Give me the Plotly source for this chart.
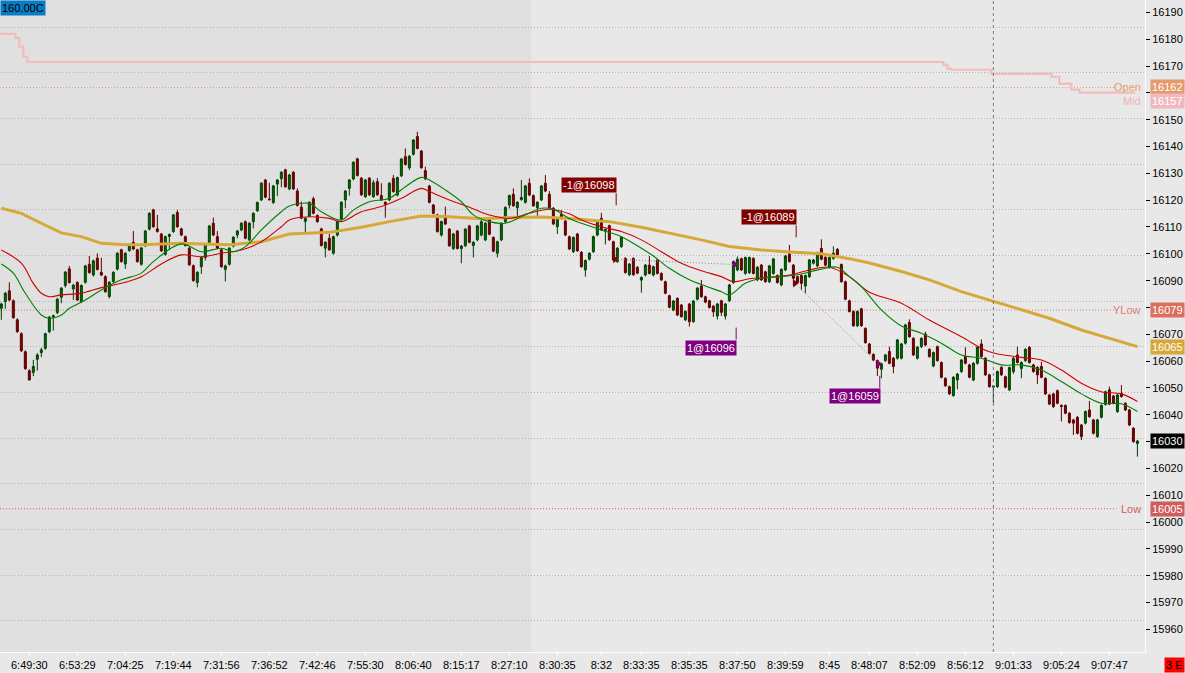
import plotly.graph_objects as go

# ---- candles (one per bar, bar index = x position) ----
opens = [
    16079.7, 16082.2, 16086.2, 16082.5, 16075.4, 16070.2, 16063.5, 16056.4, 16055.8, 16060.7,
    16063.2, 16064.8, 16071.0, 16076.5, 16078.1, 16083.8, 16088.2, 16094.4, 16086.9, 16089.3,
    16082.2, 16089.4, 16096.1, 16092.1, 16098.4, 16093.1, 16091.5, 16084.1, 16089.7, 16094.3,
    16101.5, 16096.2, 16101.2, 16104.3, 16101.5, 16096.1, 16103.0, 16109.2, 16116.4, 16109.3,
    16107.4, 16099.8, 16106.5, 16108.3, 16115.4, 16109.3, 16106.4, 16102.1, 16095.6, 16089.3,
    16095.2, 16098.6, 16104.3, 16111.4, 16106.4, 16101.5, 16094.2, 16096.1, 16102.9, 16107.0,
    16108.9, 16112.0, 16105.2, 16112.0, 16116.1, 16120.1, 16127.5, 16120.4, 16119.1, 16126.0,
    16128.0, 16131.3, 16124.2, 16130.4, 16123.4, 16117.4, 16112.1, 16114.1, 16120.5, 16114.3,
    16109.3, 16102.1, 16105.8, 16100.2, 16107.0, 16113.0, 16120.1, 16124.4, 16127.9, 16135.4,
    16128.2, 16121.3, 16128.2, 16121.3, 16126.9, 16121.7, 16119.2, 16120.1, 16128.1, 16121.9,
    16129.1, 16136.2, 16132.1, 16137.1, 16143.7, 16138.3, 16131.0, 16125.3, 16118.2, 16114.5,
    16107.0, 16113.5, 16109.2, 16102.0, 16108.5, 16102.0, 16103.0, 16110.4, 16103.1, 16105.2,
    16107.0, 16105.2, 16113.2, 16106.1, 16100.2, 16105.2, 16112.0, 16118.2, 16122.2, 16117.2,
    16120.2, 16119.2, 16126.3, 16121.7, 16117.2, 16120.1, 16126.3, 16122.2, 16117.0, 16110.1,
    16114.7, 16112.2, 16106.4, 16100.8, 16107.4, 16100.6, 16094.0, 16098.0, 16100.8, 16107.0,
    16113.2, 16108.7, 16110.5, 16104.5, 16097.1, 16102.7, 16098.3, 16092.2, 16098.3, 16095.0,
    16090.2, 16092.1, 16095.8, 16092.1, 16097.7, 16092.7, 16089.6, 16084.4, 16079.1, 16083.4,
    16080.9, 16075.4, 16081.3, 16074.7, 16083.1, 16088.0, 16084.0, 16082.5, 16080.5, 16076.8,
    16082.5, 16076.8, 16082.5, 16089.3, 16094.0, 16098.2, 16092.7, 16093.0, 16098.3, 16090.3,
    16095.8, 16093.3, 16089.6, 16092.7, 16091.9, 16088.4, 16094.0, 16099.9, 16095.8, 16091.5,
    16091.9, 16088.0, 16091.5, 16096.5, 16095.5, 16102.0, 16098.7, 16095.0, 16098.3, 16101.7,
    16096.0, 16089.6, 16082.5, 16078.5, 16073.2, 16079.5, 16072.2, 16066.4, 16062.5, 16060.2,
    16057.0, 16060.2, 16063.6, 16061.1, 16061.1, 16061.1, 16066.7, 16074.4, 16068.5, 16061.1,
    16065.4, 16070.1, 16064.4, 16058.2, 16065.4, 16059.5, 16053.6, 16050.5, 16047.2, 16053.0,
    16056.1, 16061.7, 16058.6, 16053.0, 16059.2, 16066.4, 16061.1, 16054.9, 16050.3, 16050.5,
    16057.7, 16054.2, 16049.3, 16056.1, 16062.3, 16057.3, 16060.2, 16065.2, 16058.6, 16057.7,
    16058.0, 16053.6, 16047.4, 16047.8, 16049.0, 16043.5, 16043.5, 16040.6, 16038.1, 16039.1,
    16036.2, 16036.9, 16041.8, 16038.1, 16031.9, 16039.1, 16043.9, 16049.3, 16047.0, 16041.2,
    16048.0, 16044.3, 16041.8, 16035.0, 16029.3,
]
highs = [
    16081.8, 16085.8, 16089.4, 16083.0, 16076.0, 16070.8, 16064.0, 16057.0, 16060.5, 16063.0,
    16065.0, 16070.6, 16076.8, 16077.4, 16083.5, 16087.6, 16093.6, 16095.5, 16088.8, 16089.8,
    16088.6, 16095.9, 16099.2, 16097.8, 16100.2, 16098.6, 16092.0, 16089.8, 16093.5, 16100.6,
    16101.9, 16100.6, 16103.7, 16108.5, 16101.9, 16102.6, 16108.9, 16115.5, 16116.8, 16114.5,
    16107.8, 16106.8, 16107.6, 16114.9, 16116.4, 16109.7, 16106.8, 16102.5, 16096.0, 16093.5,
    16099.0, 16103.7, 16110.8, 16113.5, 16108.5, 16101.9, 16096.0, 16102.5, 16106.6, 16108.9,
    16111.8, 16112.4, 16111.8, 16115.5, 16119.5, 16126.7, 16127.9, 16126.5, 16125.7, 16127.9,
    16130.8, 16131.7, 16129.8, 16130.8, 16124.4, 16119.5, 16113.6, 16119.6, 16121.3, 16114.7,
    16109.7, 16104.7, 16107.4, 16106.8, 16112.4, 16119.6, 16123.8, 16127.9, 16134.5, 16135.8,
    16128.6, 16127.9, 16128.6, 16127.5, 16128.2, 16126.3, 16119.6, 16126.7, 16129.4, 16128.8,
    16135.7, 16139.3, 16136.8, 16142.8, 16145.5, 16138.7, 16132.5, 16125.7, 16118.6, 16114.9,
    16112.4, 16117.6, 16109.6, 16107.8, 16108.9, 16103.3, 16109.6, 16110.8, 16104.7, 16110.8,
    16112.9, 16111.8, 16113.6, 16106.5, 16104.9, 16111.8, 16117.7, 16122.1, 16124.4, 16119.6,
    16127.5, 16125.7, 16128.1, 16122.1, 16119.6, 16125.7, 16129.4, 16123.4, 16117.4, 16113.6,
    16116.3, 16112.6, 16106.8, 16106.5, 16107.8, 16101.0, 16097.9, 16100.6, 16106.8, 16112.6,
    16115.3, 16109.5, 16110.9, 16104.9, 16102.5, 16106.6, 16098.7, 16096.6, 16098.7, 16095.4,
    16091.6, 16096.2, 16099.2, 16095.6, 16098.1, 16093.1, 16090.0, 16084.8, 16082.8, 16083.8,
    16081.3, 16078.9, 16081.7, 16082.8, 16087.6, 16090.3, 16084.4, 16082.9, 16080.9, 16081.7,
    16082.9, 16081.7, 16088.8, 16097.5, 16099.0, 16098.6, 16099.0, 16099.0, 16098.7, 16095.4,
    16096.2, 16093.7, 16095.9, 16098.5, 16092.3, 16094.6, 16099.6, 16103.3, 16096.2, 16091.9,
    16092.3, 16092.3, 16098.1, 16098.1, 16100.8, 16105.4, 16099.1, 16099.0, 16102.8, 16102.1,
    16096.4, 16090.0, 16082.9, 16078.9, 16078.9, 16079.9, 16072.6, 16066.8, 16062.9, 16060.6,
    16059.4, 16062.7, 16065.4, 16061.5, 16068.3, 16066.8, 16073.9, 16075.6, 16068.9, 16065.6,
    16068.9, 16071.0, 16064.8, 16063.6, 16065.8, 16059.9, 16054.0, 16050.9, 16054.4, 16055.6,
    16060.8, 16065.2, 16059.0, 16059.6, 16065.6, 16068.1, 16061.5, 16055.3, 16051.1, 16056.5,
    16058.1, 16054.6, 16058.0, 16061.5, 16065.4, 16059.9, 16064.8, 16065.6, 16059.0, 16058.1,
    16059.8, 16054.0, 16047.8, 16048.2, 16049.4, 16043.9, 16043.9, 16041.0, 16038.5, 16039.5,
    16036.6, 16041.6, 16045.2, 16038.5, 16038.5, 16043.9, 16049.0, 16050.5, 16047.4, 16047.8,
    16051.1, 16044.7, 16042.2, 16035.4, 16030.6,
]
lows = [
    16075.4, 16079.5, 16082.3, 16075.8, 16070.5, 16063.4, 16056.8, 16052.8, 16054.4, 16056.5,
    16061.5, 16064.2, 16070.4, 16071.4, 16077.5, 16081.6, 16087.4, 16088.9, 16082.8, 16082.4,
    16081.6, 16088.9, 16092.6, 16091.5, 16093.8, 16091.7, 16085.5, 16083.4, 16089.2, 16093.8,
    16096.7, 16094.4, 16100.8, 16101.4, 16096.7, 16095.6, 16102.5, 16108.7, 16109.7, 16107.9,
    16100.7, 16099.3, 16101.5, 16107.8, 16109.7, 16106.6, 16102.7, 16095.5, 16089.6, 16087.5,
    16092.5, 16097.5, 16103.8, 16106.6, 16101.7, 16094.8, 16089.7, 16095.6, 16102.4, 16105.8,
    16108.4, 16105.4, 16104.7, 16109.5, 16115.6, 16119.6, 16120.7, 16119.8, 16118.6, 16121.6,
    16124.8, 16124.6, 16123.7, 16123.8, 16117.6, 16112.9, 16107.7, 16113.6, 16114.7, 16111.6,
    16102.7, 16098.7, 16101.1, 16099.7, 16106.4, 16112.5, 16117.0, 16121.7, 16127.4, 16128.8,
    16121.6, 16120.8, 16121.6, 16120.8, 16121.6, 16119.7, 16113.5, 16119.6, 16122.8, 16121.4,
    16128.6, 16132.9, 16131.2, 16136.6, 16138.9, 16131.7, 16127.5, 16118.8, 16114.7, 16107.9,
    16106.4, 16110.7, 16102.6, 16101.4, 16101.6, 16096.5, 16102.5, 16103.9, 16098.7, 16104.7,
    16106.5, 16104.7, 16106.9, 16100.6, 16098.7, 16104.7, 16111.5, 16116.9, 16117.5, 16113.5,
    16119.8, 16118.7, 16121.5, 16117.5, 16113.5, 16119.6, 16123.0, 16116.8, 16110.7, 16107.4,
    16112.8, 16106.6, 16101.4, 16100.3, 16100.7, 16094.8, 16091.5, 16097.5, 16100.3, 16106.5,
    16108.5, 16103.5, 16104.8, 16097.3, 16096.6, 16102.2, 16092.6, 16091.7, 16091.8, 16092.4,
    16085.5, 16091.6, 16092.3, 16091.6, 16092.3, 16089.9, 16084.9, 16079.7, 16078.6, 16076.8,
    16076.2, 16074.9, 16072.9, 16074.3, 16082.6, 16083.6, 16081.6, 16079.6, 16076.5, 16075.5,
    16076.8, 16075.5, 16082.0, 16088.8, 16093.5, 16093.6, 16092.2, 16092.5, 16092.3, 16089.8,
    16089.9, 16089.2, 16089.1, 16092.2, 16088.9, 16087.9, 16093.5, 16096.7, 16088.0, 16088.9,
    16086.5, 16085.3, 16091.0, 16096.0, 16095.0, 16097.6, 16095.4, 16094.5, 16097.8, 16099.2,
    16089.2, 16082.7, 16078.1, 16072.8, 16072.7, 16072.8, 16066.5, 16062.5, 16060.0, 16054.5,
    16053.6, 16059.7, 16058.8, 16055.5, 16060.6, 16060.6, 16066.2, 16068.7, 16061.9, 16060.6,
    16064.9, 16065.6, 16061.3, 16057.7, 16059.8, 16053.6, 16050.4, 16047.4, 16046.7, 16049.5,
    16055.6, 16058.8, 16053.6, 16052.5, 16058.7, 16061.3, 16054.5, 16050.1, 16044.5, 16050.0,
    16054.5, 16049.9, 16048.8, 16055.2, 16059.1, 16053.6, 16059.7, 16059.1, 16055.7, 16051.5,
    16053.6, 16047.4, 16043.6, 16042.5, 16043.9, 16037.5, 16040.2, 16036.7, 16032.5, 16032.7,
    16030.6, 16036.4, 16038.9, 16032.7, 16031.4, 16038.6, 16043.4, 16043.6, 16043.9, 16040.7,
    16046.4, 16041.4, 16035.8, 16029.6, 16024.4,
]
closes = [
    16081.3, 16085.3, 16082.8, 16076.2, 16071.0, 16063.9, 16057.2, 16053.0, 16058.0, 16062.3,
    16064.2, 16070.2, 16076.4, 16076.9, 16083.1, 16087.2, 16093.2, 16089.3, 16088.3, 16082.8,
    16088.2, 16095.5, 16093.0, 16097.4, 16094.2, 16092.1, 16085.9, 16089.4, 16093.1, 16100.2,
    16097.1, 16100.2, 16103.3, 16101.8, 16097.1, 16102.2, 16108.5, 16115.1, 16110.1, 16108.3,
    16101.1, 16106.4, 16107.2, 16114.5, 16110.1, 16107.0, 16103.1, 16095.9, 16090.0, 16093.1,
    16098.6, 16103.3, 16110.4, 16107.0, 16102.1, 16095.2, 16095.5, 16102.1, 16106.2, 16108.5,
    16111.4, 16105.8, 16111.4, 16115.1, 16119.1, 16126.3, 16121.1, 16120.2, 16125.3, 16127.5,
    16130.4, 16125.0, 16129.4, 16124.2, 16118.0, 16113.3, 16113.2, 16119.2, 16115.1, 16112.0,
    16103.1, 16104.3, 16101.5, 16106.4, 16112.0, 16119.2, 16123.4, 16127.5, 16134.1, 16129.2,
    16122.0, 16127.5, 16122.0, 16126.5, 16122.0, 16120.1, 16118.5, 16126.3, 16123.2, 16128.4,
    16135.3, 16133.3, 16136.4, 16142.4, 16139.3, 16132.1, 16127.9, 16119.2, 16115.1, 16108.3,
    16112.0, 16111.1, 16103.0, 16107.4, 16102.0, 16102.9, 16109.2, 16104.3, 16104.3, 16110.4,
    16112.0, 16111.4, 16107.3, 16101.0, 16104.5, 16111.4, 16117.3, 16121.7, 16117.9, 16119.2,
    16121.0, 16125.3, 16121.9, 16117.9, 16119.2, 16125.3, 16123.4, 16117.2, 16111.1, 16113.2,
    16113.2, 16107.0, 16101.8, 16106.1, 16101.1, 16095.2, 16097.5, 16100.2, 16106.4, 16112.2,
    16108.9, 16109.1, 16105.2, 16097.7, 16102.1, 16106.2, 16093.0, 16096.2, 16092.2, 16092.8,
    16091.2, 16095.8, 16092.7, 16095.2, 16092.7, 16090.3, 16085.3, 16080.1, 16082.4, 16077.2,
    16076.6, 16078.5, 16074.7, 16082.4, 16087.2, 16084.0, 16082.0, 16080.0, 16078.4, 16081.3,
    16078.2, 16081.3, 16088.4, 16097.1, 16098.0, 16094.0, 16098.6, 16098.6, 16092.7, 16095.0,
    16090.3, 16089.6, 16095.5, 16098.1, 16089.3, 16094.2, 16099.2, 16097.1, 16090.9, 16089.3,
    16089.0, 16091.9, 16097.7, 16097.7, 16100.4, 16098.0, 16095.8, 16098.6, 16100.2, 16099.6,
    16089.6, 16083.1, 16078.5, 16073.2, 16078.5, 16073.2, 16066.9, 16062.9, 16060.4, 16057.4,
    16059.0, 16062.3, 16059.2, 16058.0, 16067.9, 16066.4, 16073.5, 16069.1, 16062.3, 16065.2,
    16068.5, 16066.0, 16061.7, 16063.2, 16060.2, 16054.0, 16050.8, 16047.8, 16054.0, 16055.2,
    16060.4, 16059.2, 16054.0, 16059.2, 16065.2, 16061.7, 16054.9, 16050.5, 16050.7, 16056.1,
    16054.9, 16050.3, 16057.6, 16061.1, 16059.5, 16059.5, 16064.4, 16059.5, 16056.1, 16054.9,
    16054.0, 16047.8, 16044.0, 16043.1, 16044.3, 16043.1, 16040.6, 16037.1, 16036.9, 16033.1,
    16031.9, 16041.2, 16039.3, 16033.1, 16038.1, 16043.5, 16048.6, 16044.0, 16044.3, 16047.4,
    16046.8, 16041.8, 16036.2, 16030.0, 16030.2,
]
bars = list(range(len(closes)))

# ---- moving averages at sample bars ----
fast_idx = [0, 3, 6, 10, 12, 15, 17, 21, 25, 30, 35, 38, 45, 50, 55, 58, 61, 65, 70, 72,
            77, 80, 85, 88, 92, 97, 101, 105, 107, 111, 115, 118, 122, 126, 130, 135, 138, 142, 145, 150,
            155, 160, 163, 167, 172, 176, 180, 182, 186, 190, 195, 200, 205, 209, 212, 215, 220, 225, 230, 235,
            240, 245, 250, 255, 260, 265, 270, 275, 280, 284]
fast_ma = [16096.2, 16092.8, 16085.3, 16077.2, 16076.0, 16077.2, 16079.7, 16082.8, 16086.5, 16090.3,
           16092.8, 16097.1, 16103.7, 16100.8, 16102.1, 16100.8, 16102.7, 16108.9, 16115.7, 16117.8,
           16118.8, 16115.7, 16112.6, 16116.3, 16119.4, 16120.7, 16125.0, 16128.5, 16127.5, 16123.8,
           16119.4, 16114.5, 16112.0, 16111.4, 16113.8, 16117.0, 16116.6, 16113.2, 16111.4, 16108.9,
           16106.4, 16102.1, 16099.2, 16094.6, 16090.3, 16088.0, 16085.9, 16084.7, 16089.0, 16090.9,
           16091.5, 16092.5, 16094.3, 16095.0, 16091.5, 16087.8, 16079.1, 16073.1, 16070.4, 16066.7,
           16062.3, 16061.1, 16058.6, 16058.6, 16056.7, 16052.4, 16047.8, 16044.3, 16044.1, 16041.2]

mid_idx = [0, 5, 8, 10, 12, 15, 20, 25, 30, 35, 40, 45, 50, 55, 60, 65, 70, 72, 77, 82,
           85, 90, 95, 100, 105, 107, 112, 117, 122, 127, 132, 137, 142, 145, 150, 155, 160, 165, 170, 175,
           180, 183, 187, 192, 197, 202, 207, 212, 217, 225, 232, 240, 247, 255, 260, 265, 270, 275, 280, 284]
mid_ma = [16101.4, 16096.5, 16089.0, 16085.3, 16084.0, 16084.7, 16085.3, 16087.4, 16089.0, 16091.5,
          16096.2, 16099.6, 16098.9, 16100.2, 16101.4, 16104.5, 16110.1, 16112.6, 16113.8, 16113.2,
          16112.0, 16115.7, 16117.6, 16120.7, 16124.4, 16123.2, 16120.1, 16117.4, 16114.5, 16113.2,
          16115.1, 16116.6, 16114.9, 16112.6, 16110.1, 16108.3, 16105.2, 16100.8, 16096.5, 16093.7,
          16091.5, 16089.6, 16090.7, 16091.3, 16092.1, 16094.0, 16095.0, 16091.5, 16085.7, 16081.6,
          16075.3, 16069.1, 16063.5, 16061.4, 16060.4, 16056.7, 16051.8, 16048.6, 16047.8, 16045.0]

slow_idx = [0, 5, 10, 15, 20, 25, 30, 35, 40, 45, 50, 57, 65, 72, 82, 90, 97, 105, 112, 120,
            127, 135, 142, 152, 160, 167, 175, 182, 190, 197, 205, 212, 217, 225, 232, 240, 247, 255, 262, 270,
            277, 284]
slow_ma = [16117.0, 16115.1, 16111.4, 16107.8, 16106.4, 16103.9, 16103.5, 16103.4, 16103.7, 16103.9,
           16103.7, 16103.4, 16104.5, 16107.4, 16108.0, 16109.9, 16112.0, 16114.1, 16113.8, 16113.1,
           16113.5, 16113.7, 16113.2, 16112.0, 16109.9, 16107.7, 16105.2, 16102.7, 16101.4, 16100.7,
           16100.0, 16098.2, 16096.6, 16093.4, 16090.3, 16085.9, 16082.8, 16079.1, 16076.0, 16071.6,
           16068.5, 16065.4]

# stepped pink line near the top (bar where each step starts, value)
step_idx = [0, 4, 5, 6, 7, 236, 237, 238, 248, 263, 265, 268, 270, 284]
step_val = [16182.0, 16180.5, 16177.2, 16173.4, 16171.5, 16170.4, 16169.0, 16168.6, 16167.1,
            16166.0, 16163.4, 16161.2, 16160.1, 16160.1]

# trades
trade_bar = [153.4, 183.4, 198.4, 219.3]
trade_px = [16098, 16096, 16089, 16059]
trade_txt = ["-1@16098", "1@16096", "-1@16089", "1@16059"]
trade_side = [-1, 1, -1, 1]

# price levels
level_name = ["Open", "Mid", "YLow", "Low"]
level_val = [16162, 16157, 16079, 16005]

# time axis
tick_bars = [7, 19, 31, 43, 55, 67, 79, 91, 103, 115, 127, 139, 150, 160, 172, 184, 196, 207,
             217, 229, 241, 253, 265, 277]
tick_text = ["6:49:30", "6:53:29", "7:04:25", "7:19:44", "7:31:56", "7:36:52", "7:42:46", "7:55:30",
             "8:06:40", "8:15:17", "8:27:10", "8:30:35", "8:32", "8:33:35", "8:35:35", "8:37:50",
             "8:39:59", "8:45", "8:48:07", "8:52:09", "8:56:12", "9:01:33", "9:05:24", "9:07:47"]

session_start = 132.5
marker_bar = 248

FONT = "Liberation Sans"
Y_RANGE = [15951.6, 16194.6]
X_RANGE = [-0.33, 285.9]
PX_PER_PT = 652 / (Y_RANGE[1] - Y_RANGE[0])
DOTS = "1px,2px"

fig = go.Figure()

fig.add_trace(go.Candlestick(
    x=bars, open=opens, high=highs, low=lows, close=closes,
    increasing=dict(line=dict(color="#003c00", width=1), fillcolor="#007000"),
    decreasing=dict(line=dict(color="#5a0000", width=1), fillcolor="#800000"),
    showlegend=False, hoverinfo="skip",
))

fig.add_trace(go.Scatter(x=slow_idx, y=slow_ma, mode="lines", line=dict(color="#d6a838", width=3),
                         showlegend=False, hoverinfo="skip"))
fig.add_trace(go.Scatter(x=mid_idx, y=mid_ma, mode="lines", line=dict(color="#d00000", width=1.1, shape="spline"),
                         showlegend=False, hoverinfo="skip"))
fig.add_trace(go.Scatter(x=fast_idx, y=fast_ma, mode="lines", line=dict(color="#008000", width=1.1, shape="spline"),
                         showlegend=False, hoverinfo="skip"))

# pink step line, drawn on the overlay axis that also carries the dotted grid
fig.add_trace(go.Scatter(x=[i - 0.5 for i in step_idx], y=step_val, mode="lines", yaxis="y2",
                         line=dict(color="#f2bcbc", width=2.2, shape="hv"),
                         showlegend=False, hoverinfo="skip"))

# trade connectors
for k in (0, 2):
    fig.add_trace(go.Scatter(x=[trade_bar[k], trade_bar[k + 1]], y=[trade_px[k], trade_px[k + 1]],
                             mode="lines", line=dict(color="#8c8c8c", width=1, dash=DOTS),
                             showlegend=False, hoverinfo="skip"))

sell_col, buy_col = "#800000", "#800080"
fig.add_trace(go.Scatter(
    x=trade_bar, y=trade_px, mode="markers",
    marker=dict(symbol="triangle-right", size=7,
                color=[sell_col if s < 0 else buy_col for s in trade_side]),
    showlegend=False, hoverinfo="skip"))

# trade labels with a short stub
label_gap = [66, 75, 58, 24]   # px between fill price and label
for b, p, t, s, g in zip(trade_bar, trade_px, trade_txt, trade_side, label_gap):
    col = sell_col if s < 0 else buy_col
    y_far = p - s * g / PX_PER_PT
    y_near = p - s * (g - 12) / PX_PER_PT
    fig.add_shape(type="line", x0=b + 0.3, x1=b + 0.3, y0=y_near, y1=y_far,
                  line=dict(color=col, width=1), layer="above")
    fig.add_annotation(x=b + 0.3, y=y_far, text=t, showarrow=False, xanchor="right",
                       yanchor="bottom" if s < 0 else "top", xshift=1,
                       bgcolor=col, borderpad=1, font=dict(family=FONT, size=11, color="white"))

# earlier session shading
fig.add_shape(type="rect", xref="x", yref="paper", x0=X_RANGE[0], x1=session_start, y0=0, y1=1,
              fillcolor="#e0e0e0", line=dict(width=0), layer="below")

fig.add_shape(type="line", xref="x", yref="paper", x0=marker_bar, x1=marker_bar, y0=0, y1=1,
              line=dict(color="#7a7a7a", width=1, dash="3px,3px"), layer="above")

# price level lines and tags
level_line = {"Open": "#e79a6a", "YLow": "#cf7a6e", "Low": "#c85c5c"}
level_text = {"Open": "#e89c70", "Mid": "#f0b4bc", "YLow": "#e07c70", "Low": "#d06060"}
level_box = {"Open": "#e49a6a", "Mid": "#f2b8c0", "YLow": "#dc6e60", "Low": "#d05c5c"}
for name, val in zip(level_name, level_val):
    if name in level_line:
        fig.add_shape(type="line", xref="paper", yref="y", x0=0, x1=0.975, y0=val, y1=val,
                      line=dict(color=level_line[name], width=1, dash=DOTS), layer="between")
    fig.add_annotation(xref="paper", x=1, y=val, text=name, showarrow=False, xanchor="right",
                       xshift=-2, font=dict(family=FONT, size=11, color=level_text[name]))
    fig.add_annotation(xref="paper", x=1, y=val, text=str(val), showarrow=False, xanchor="left",
                       xshift=5, bgcolor=level_box[name], borderpad=1,
                       font=dict(family=FONT, size=11, color="white"))

# last values of the slow average and of price
fig.add_annotation(xref="paper", x=1, y=slow_ma[-1], text=f"{slow_ma[-1]:.0f}", showarrow=False,
                   xanchor="left", xshift=5, bgcolor="#d6a838", borderpad=1,
                   font=dict(family=FONT, size=11, color="white"))
fig.add_annotation(xref="paper", x=1, y=closes[-1], text=f"{closes[-1]:.0f}", showarrow=False,
                   xanchor="left", xshift=5, bgcolor="#000000", borderpad=1,
                   font=dict(family=FONT, size=11, color="white"))

fig.add_annotation(xref="paper", yref="paper", x=0, y=1, text="160.00C", showarrow=False,
                   xanchor="left", yanchor="top", bgcolor="#0a7cc4", borderpad=1,
                   font=dict(family=FONT, size=11, color="black"))
fig.add_annotation(xref="paper", yref="paper", x=1, y=0, text="3 E", showarrow=False,
                   xanchor="center", yanchor="top", xshift=29, yshift=-5, bgcolor="#ff0000", borderpad=1,
                   font=dict(family=FONT, size=11, color="black"))

fig.update_layout(
    width=1185, height=673,
    margin=dict(l=0, r=40, t=0, b=21, pad=0),
    paper_bgcolor="#e8e8e8", plot_bgcolor="#e8e8e8",
    showlegend=False,
    font=dict(family=FONT, size=11, color="black"),
    xaxis=dict(range=X_RANGE, tickvals=tick_bars, ticktext=tick_text, showgrid=False, zeroline=False,
               showline=True, linecolor="white", linewidth=1, ticks="outside", ticklen=3,
               tickcolor="white", rangeslider=dict(visible=False), fixedrange=True, automargin=False),
    yaxis=dict(range=Y_RANGE, side="right", dtick=10, tickformat="d", showgrid=False, zeroline=False,
               showline=True, linecolor="white", linewidth=1, ticks="outside", ticklen=4,
               tickcolor="black", fixedrange=True, automargin=False),
    yaxis2=dict(range=Y_RANGE, overlaying="y", side="right", tick0=15963.2, dtick=17.02,
                showgrid=True, gridcolor="#b4b4b4", griddash=DOTS, gridwidth=1,
                showticklabels=False, ticks="", zeroline=False, showline=False, fixedrange=True,
                automargin=False),
)

# page body margin would push the figure off the window
fig.write_html("out.html", config={"displayModeBar": False},
               post_script="document.body.style.margin='0';document.body.style.overflow='hidden';")
